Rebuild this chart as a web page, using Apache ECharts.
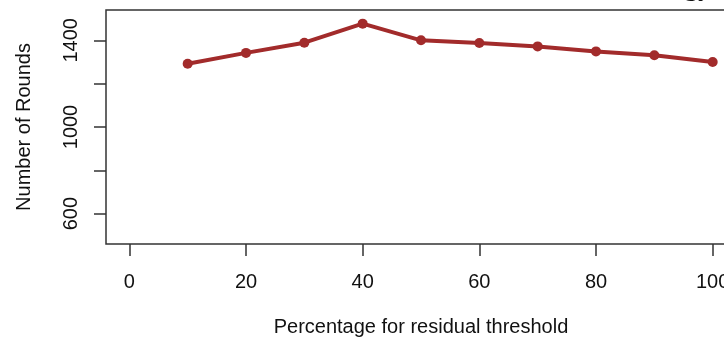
<!DOCTYPE html>
<html>
<head>
<meta charset="utf-8">
<script src="https://cdn.jsdelivr.net/npm/echarts@6/dist/echarts.min.js"></script>
<style>
html,body{margin:0;padding:0;background:#fff;overflow:hidden;}
#c{width:736px;height:342px;}
</style>
</head>
<body>
<div id="c"></div>
<script>
const xValues = [10, 20, 30, 40, 50, 60, 70, 80, 90, 100];
const rounds = [1292, 1342, 1389, 1477, 1400, 1388, 1372, 1349, 1331, 1300];
const xTicks = [0, 20, 40, 60, 80, 100];
const yTicks = [600, 800, 1000, 1200, 1400];
const yTickLabels = [600, 1000, 1400];
const xTitle = 'Percentage for residual threshold';
const yTitle = 'Number of Rounds';

const chart = echarts.init(document.getElementById('c'), null, {renderer: 'canvas'});
const font = 'Liberation Sans, Arial, sans-serif';
chart.setOption({
  animation: false,
  backgroundColor: '#ffffff',
  grid: {
    left: 106, right: 0, top: 10, bottom: 98,
    show: true, borderColor: '#333', borderWidth: 1.5, backgroundColor: 'transparent'
  },
  xAxis: {
    type: 'value', min: -4, max: 104,
    splitLine: {show: false},
    axisLine: {show: false, onZero: false},
    axisTick: {show: true, customValues: xTicks, length: 12, lineStyle: {color: '#333', width: 1.5}},
    axisLabel: {customValues: xTicks, margin: 28, color: '#111', fontSize: 20, fontFamily: font,
      formatter: v => String(v)},
    name: xTitle, nameLocation: 'middle', nameGap: 73,
    nameTextStyle: {color: '#111', fontSize: 20, fontFamily: font}
  },
  yAxis: {
    type: 'value', min: 460, max: 1540,
    splitLine: {show: false},
    axisLine: {show: false, onZero: false},
    axisTick: {show: true, customValues: yTicks, length: 12, lineStyle: {color: '#333', width: 1.5}},
    axisLabel: {customValues: yTickLabels, rotate: 90, margin: 25, color: '#111', fontSize: 20, fontFamily: font,
      formatter: v => String(v)},
    name: yTitle, nameLocation: 'middle', nameGap: 72, nameRotate: 90,
    nameTextStyle: {color: '#111', fontSize: 20, fontFamily: font}
  },
  graphic: [
    {type: 'text', right: 24, top: -26, style: {text: 'Strategy', font: '28px Liberation Serif, serif', fill: '#111'}}
  ],
  series: [{
    type: 'line',
    data: xValues.map((x, i) => [x, rounds[i]]),
    color: '#A22B2B',
    lineStyle: {width: 4, color: '#A22B2B'},
    symbol: 'circle', symbolSize: 10,
    itemStyle: {color: '#A22B2B'}
  }]
});
</script>
</body>
</html>
